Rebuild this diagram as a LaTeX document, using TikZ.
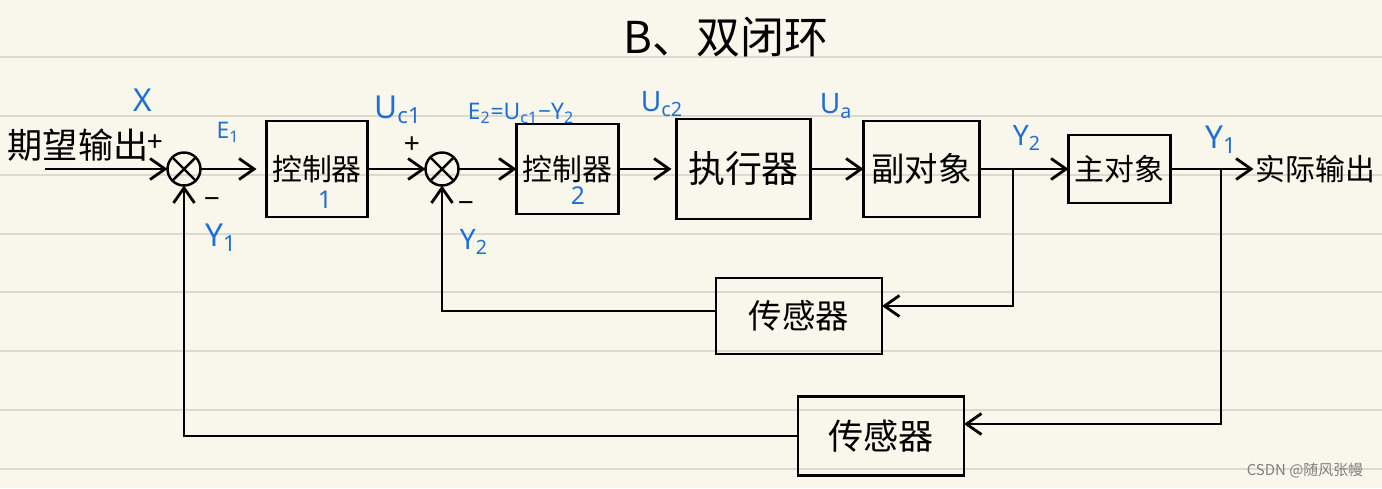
\documentclass[tikz,border=0pt]{standalone}
\usepackage{fontspec}
\setmainfont{Noto Sans}
\newfontfamily\cjk{Noto Sans CJK SC}
\usepackage{xcolor}
\usepackage{tikz}
\usetikzlibrary{arrows.meta,positioning,calc}
\definecolor{paper}{HTML}{F9F7EC}
\definecolor{rulegray}{HTML}{DCDAD0}
\definecolor{ink}{HTML}{1F6FD4}

\begin{document}
\begin{tikzpicture}[
  x=0.2mm, y=-0.2mm,
  node distance=11.6mm,
  blk/.style={draw, line width=1.6pt, inner sep=0pt, outer sep=0pt, align=center,
              font=\cjk\fontsize{17}{17}\selectfont},
  sumj/.style={circle, draw, line width=1.4pt, minimum size=6.6mm, inner sep=0pt, outer sep=0pt,
    path picture={\draw[line width=1.4pt]
      (path picture bounding box.north west) -- (path picture bounding box.south east)
      (path picture bounding box.north east) -- (path picture bounding box.south west);}},
  arr/.style={-{Straight Barb[length=3mm,width=4.2mm]}, line width=1.6pt},
  lab/.style={text=ink, inner sep=0pt, font=\fontsize{16}{16}\selectfont},
  sgn/.style={inner sep=0pt, font=\fontsize{16}{16}\selectfont},
  txt/.style={inner sep=1pt, font=\cjk\fontsize{19}{19}\selectfont},
]
% paper
\useasboundingbox (0,0) rectangle (1382,488);
\fill[paper] (0,0) rectangle (1382,488);
\foreach \ry in {57,116,175,234,292,351,410,469}
  \draw[rulegray, line width=0.8pt] (0,\ry) -- (1382,\ry);

\node[txt, font=\cjk\fontsize{25}{25}\selectfont] (title) at (726,37) {B、双闭环};

% forward path
\node[txt, font=\cjk\fontsize{20}{20}\selectfont] (want) at (78,145) {期望输出};
\coordinate (in) at (45,169);
\node[sumj] (s1) at (184,169) {};
\node[blk, minimum width=20.2mm, minimum height=19.2mm, right=13.2mm of s1] (c1) {控制器};
\node[sumj, right=of c1] (s2) {};
\node[blk, minimum width=20.4mm, minimum height=18mm, right=of s2] (c2) {控制器};
\node[blk, font=\cjk\fontsize{21}{21}\selectfont,
      minimum width=26.8mm, minimum height=20mm, right=of c2] (act) {执行器};
\node[blk, font=\cjk\fontsize{19}{19}\selectfont,
      minimum width=23.2mm, minimum height=19.2mm, right=10.6mm of act] (sub) {副对象};
\node[blk, minimum width=20.4mm, minimum height=13.6mm, right=17.8mm of sub] (plant) {主对象};
\node[txt, font=\cjk\fontsize{17}{17}\selectfont, right=16.6mm of plant] (out) {实际输出};
\coordinate (b2) at (1013,169);
\coordinate (b1) at (1221,169);

% sensors
\node[blk, font=\cjk\fontsize{19}{19}\selectfont,
      minimum width=33.2mm, minimum height=15.2mm] (sen1) at (799,316) {传感器};
\node[blk, font=\cjk\fontsize{20}{20}\selectfont,
      minimum width=33.2mm, minimum height=15.8mm] (sen2) at (881,436) {传感器};

% labels
\node[lab, font=\fontsize{18}{18}\selectfont] (lX) at (143,100) {X};
\node[lab, font=\fontsize{13}{13}\selectfont] (lE1) at (228,132) {E\textsubscript{1}};
\node[lab, font=\fontsize{14}{14}\selectfont] (ln1) at (325,200) {1};
\node[lab, font=\fontsize{18}{18}\selectfont] (lUc1) at (398,110) {U\textsubscript{c1}};
\node[lab, font=\fontsize{13}{13}\selectfont] (lE2) at (521,113) {E\textsubscript{2}=U\textsubscript{c1}−Y\textsubscript{2}};
\node[lab, font=\fontsize{14}{14}\selectfont] (ln2) at (578,196) {2};
\node[lab] (lUc2) at (662,104) {U\textsubscript{c2}};
\node[lab] (lUa) at (836,106) {U\textsubscript{a}};
\node[lab, font=\fontsize{18}{18}\selectfont] (lY1a) at (221,238) {Y\textsubscript{1}};
\node[lab] (lY2a) at (474,242) {Y\textsubscript{2}};
\node[lab] (lY2b) at (1027,138) {Y\textsubscript{2}};
\node[lab, font=\fontsize{18}{18}\selectfont] (lY1b) at (1221,140) {Y\textsubscript{1}};
\node[sgn] (p1) at (155,143) {+};
\node[sgn] (p2) at (412,145) {+};
\node[sgn] (m1) at (212,203) {−};
\node[sgn] (m2) at (466,207) {−};

\node[text=gray, inner sep=0pt, font=\cjk\fontsize{8.5}{8.5}\selectfont] (mark) at (1305,470) {CSDN @随风张幔};

% connectors
\draw[arr] (in) -- (s1);
\draw[arr, shorten >=2mm] (s1) -- (c1);
\draw[arr] (c1) -- (s2);
\draw[arr] (s2) -- (c2);
\draw[arr, shorten >=1mm] (c2) -- (act);
\draw[arr] (act) -- (sub);
\draw[arr] (sub) -- (plant);
\draw[arr] (plant) -- (out);
\draw[arr] (b2) |- ([yshift=2mm]sen1.east);
\draw[arr] ([yshift=1mm]sen1.west) -| (s2);
\draw[arr] (b1) |- ([yshift=2.4mm]sen2.east);
\draw[arr] (sen2.west) -| (s1);
\end{tikzpicture}
\end{document}
